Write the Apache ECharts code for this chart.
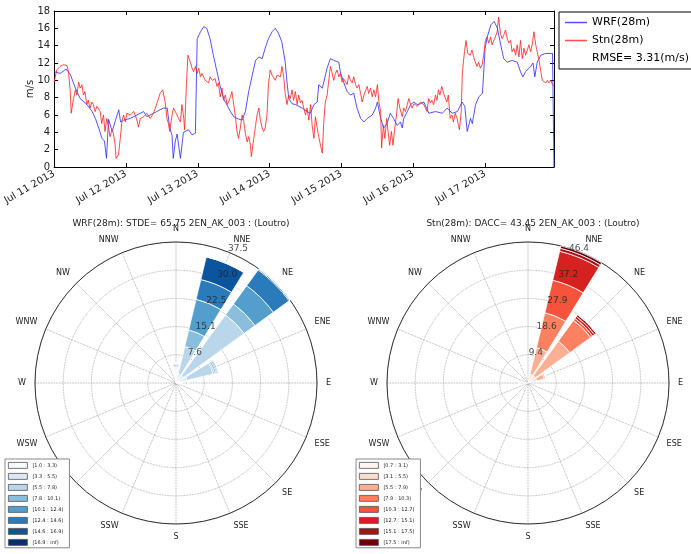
<!DOCTYPE html>
<html>
<head>
<meta charset="utf-8">
<script src="https://cdn.jsdelivr.net/npm/echarts@6.0.0/dist/echarts.min.js"></script>
<style>
html, body { margin: 0; padding: 0; background: #fff; }
#main { width: 691px; height: 554px; }
</style>
</head>
<body>
<div id="main"></div>
<script>
// time series: hours since Jul 11 2013 00:00, wind speed in m/s
var dayLabels = ['Jul 11 2013', 'Jul 12 2013', 'Jul 13 2013', 'Jul 14 2013', 'Jul 15 2013', 'Jul 16 2013', 'Jul 17 2013'];

var wrfHours = [0, 2.0, 4.0, 5.4, 7.1, 8.7, 11.0, 12.7, 13.8, 14.9, 16.0, 16.8, 17.5, 18.2, 19.4, 20.5, 21.6, 22.2, 23.2, 25.4,
    27.7, 29.9, 31.0, 32.1, 34.3, 36.5, 37.8, 38.5, 39.4, 39.8, 40.5, 41.1, 42.2, 43.2, 44.9, 46.1, 47.2, 47.8, 48.9, 50.0,
    51.0, 52.1, 53.2, 54.4, 55.5, 56.6, 57.7, 58.9, 60.0, 61.1, 62.8, 63.9, 65.0, 66.2, 67.3, 68.4, 69.5, 70.5, 71.6, 72.8,
    73.9, 75.0, 76.1, 77.2, 77.8, 78.4, 79.5, 80.6, 82.9, 84.5, 85.6, 86.8, 87.9, 88.4, 89.6, 90.1, 91.2, 92.3, 93.4, 95.1,
    95.6, 96.7, 97.9, 99.0, 100.1, 101.2, 102.4, 103.5, 104.6, 106.3, 107.4, 108.0, 109.1, 110.1, 111.2, 112.3, 113.4, 114.6, 115.7, 116.3,
    116.8, 118.0, 119.1, 120.2, 121.3, 122.4, 123.5, 125.2, 127.4, 129.7, 131.3, 133.0, 134.7, 136.3, 137.2, 138.0, 139.1, 139.7, 140.8, 141.9,
    143.1, 143.7, 144.0, 144.7, 145.9, 147.0, 148.1, 149.2, 150.2, 151.4, 153.0, 154.7, 155.8, 156.6, 157.5, 159.2, 160.0, 160.6, 161.4, 162.6,
    164.2, 166.5, 167.0];
var wrfSpeed = [11.0, 10.8, 11.3, 10.7, 9.1, 7.9, 7.2, 6.4, 5.6, 4.5, 3.3, 3.0, 1.0, 5.5, 4.1, 5.4, 6.6, 5.2, 5.4, 5.6,
    6.0, 6.4, 5.8, 6.0, 6.4, 6.8, 6.8, 4.8, 3.6, 1.0, 3.0, 3.8, 1.0, 4.0, 4.3, 3.7, 3.9, 14.8, 15.6, 16.2,
    16.0, 14.8, 12.9, 11.0, 9.3, 7.9, 7.2, 6.4, 5.8, 5.6, 5.4, 6.4, 8.7, 10.6, 12.3, 12.7, 12.5, 13.7, 14.8, 15.6,
    16.0, 15.4, 14.4, 12.1, 9.8, 7.9, 7.3, 7.2, 6.8, 6.4, 6.2, 7.2, 7.5, 9.5, 9.1, 9.8, 11.4, 12.5, 12.3, 12.1,
    11.0, 9.8, 8.7, 8.3, 8.5, 6.8, 5.6, 5.2, 5.6, 6.0, 6.8, 7.5, 5.6, 4.5, 5.0, 6.2, 5.6, 4.8, 5.2, 4.5,
    5.6, 6.4, 7.2, 7.5, 7.2, 7.3, 7.5, 6.2, 6.4, 6.2, 6.8, 6.2, 6.4, 7.5, 7.0, 4.1, 5.6, 5.0, 7.2, 8.1,
    8.5, 8.5, 13.7, 15.0, 16.4, 16.8, 16.0, 14.1, 12.5, 12.1, 12.3, 12.1, 11.0, 10.4, 11.0, 11.6, 12.0, 10.4, 12.1, 12.9,
    13.1, 13.1, 0];

var stnHours = [0, 0.9, 2.0, 3.1, 4.3, 4.8, 5.4, 5.7, 6.5, 7.1, 7.6, 8.2, 8.7, 9.3, 9.8, 10.3, 10.9, 11.4, 12.0, 12.6,
    13.1, 13.7, 14.3, 14.8, 15.4, 15.9, 16.5, 17.0, 17.6, 18.2, 18.7, 19.3, 19.8, 20.4, 20.7, 21.5, 22.1, 22.7, 23.2, 23.8,
    24.3, 25.4, 26.6, 27.5, 28.2, 28.8, 29.9, 31.0, 32.1, 33.2, 34.3, 34.9, 35.4, 36.3, 37.1, 37.7, 38.2, 38.6, 39.4, 39.9,
    40.5, 41.6, 42.2, 42.7, 43.3, 43.6, 44.2, 44.7, 45.5, 46.1, 46.6, 47.2, 47.8, 48.3, 48.9, 49.4, 50.5, 51.6, 52.1, 52.9,
    53.8, 54.4, 54.9, 55.5, 56.1, 56.6, 57.2, 57.8, 58.3, 58.9, 59.4, 60.0, 60.5, 61.1, 61.6, 62.2, 62.8, 63.3, 63.9, 64.5,
    65.0, 65.6, 65.9, 66.4, 67.3, 67.8, 68.4, 68.9, 69.5, 70.0, 70.5, 71.1, 71.6, 72.2, 72.8, 73.3, 73.9, 74.5, 75.0, 75.6,
    76.1, 76.7, 77.2, 77.8, 78.4, 78.9, 79.5, 80.0, 80.6, 81.2, 81.7, 82.3, 82.8, 83.4, 84.0, 84.5, 85.1, 85.7, 86.2, 86.8,
    87.3, 87.9, 88.4, 89.0, 89.6, 90.1, 90.6, 91.2, 91.7, 92.3, 92.8, 93.4, 94.0, 94.5, 95.1, 95.6, 96.2, 96.7, 97.3, 97.9,
    98.4, 99.0, 99.6, 100.1, 100.7, 101.2, 101.8, 102.4, 102.9, 103.5, 104.0, 104.6, 105.1, 105.7, 106.3, 106.8, 107.4, 108.0, 108.5, 109.1,
    109.4, 110.0, 110.5, 111.1, 111.7, 112.1, 112.7, 113.2, 113.8, 114.4, 114.9, 115.5, 116.3, 116.8, 117.4, 118.0, 118.5, 119.1, 119.6, 120.2,
    121.3, 122.4, 123.5, 124.1, 124.6, 125.1, 125.7, 126.2, 126.8, 127.4, 127.9, 128.4, 128.9, 129.5, 130.1, 130.6, 131.2, 131.7, 132.3, 132.9,
    133.4, 134.0, 134.6, 135.1, 135.4, 136.0, 136.4, 137.1, 137.6, 138.2, 139.0, 139.6, 140.5, 141.3, 141.8, 142.4, 143.0, 143.5, 144.1, 144.6,
    145.2, 145.8, 146.3, 146.9, 147.4, 148.0, 148.5, 149.1, 149.7, 150.2, 150.8, 151.4, 151.9, 152.5, 153.0, 153.6, 154.2, 154.7, 155.3, 155.8,
    156.4, 157.0, 157.5, 158.1, 158.6, 159.2, 159.8, 160.3, 160.9, 161.4, 162.0, 162.6, 163.1, 163.7, 164.2, 164.8, 165.3, 165.9, 166.5, 167.0];
var stnSpeed = [9.8, 11.2, 11.6, 11.8, 11.7, 11.0, 8.7, 6.2, 7.9, 8.9, 8.3, 9.8, 9.1, 9.5, 8.3, 8.7, 7.2, 7.7, 6.8, 7.5,
    7.2, 6.4, 7.0, 7.2, 6.4, 5.0, 6.0, 4.1, 5.6, 4.6, 3.5, 4.3, 3.9, 2.5, 1.0, 1.4, 3.3, 5.4, 6.0, 5.2,
    6.2, 6.0, 6.4, 5.6, 4.6, 5.6, 5.8, 6.2, 5.6, 6.2, 7.3, 7.2, 8.5, 8.9, 7.5, 5.6, 5.0, 4.1, 6.0, 6.8,
    6.4, 5.6, 5.2, 7.2, 5.6, 4.3, 9.5, 12.9, 12.1, 11.4, 11.0, 11.6, 10.8, 11.4, 10.4, 10.8, 10.0, 9.7, 10.4, 10.0,
    10.2, 9.3, 9.7, 8.1, 9.1, 7.7, 8.3, 7.2, 7.5, 8.1, 8.7, 7.2, 6.0, 4.1, 3.3, 4.5, 6.0, 5.4, 3.9, 2.9,
    3.5, 2.5, 1.2, 2.5, 4.8, 6.0, 6.8, 5.4, 4.5, 4.1, 4.5, 6.0, 9.5, 11.2, 10.6, 10.8, 10.0, 10.6, 10.8, 10.4,
    11.6, 10.4, 8.5, 7.2, 8.3, 7.9, 8.9, 7.7, 8.7, 7.2, 8.3, 7.4, 7.7, 6.8, 6.0, 6.8, 5.4, 7.2, 4.8, 3.3,
    5.8, 4.5, 3.5, 2.5, 1.6, 5.2, 7.5, 8.3, 9.8, 11.6, 11.0, 10.0, 10.8, 11.2, 10.4, 10.8, 9.8, 10.2, 10.4, 9.5,
    10.6, 10.0, 9.7, 10.4, 9.5, 9.1, 9.5, 8.5, 7.5, 8.3, 8.5, 9.3, 8.5, 9.1, 8.1, 8.9, 8.1, 9.5, 7.5, 6.4,
    2.2, 4.8, 3.3, 5.6, 3.7, 2.5, 4.1, 2.5, 4.5, 6.0, 7.9, 6.8, 5.8, 6.8, 6.4, 7.2, 7.9, 7.2, 6.8, 7.3,
    7.0, 7.5, 7.2, 7.2, 6.4, 7.9, 7.4, 7.7, 7.2, 8.3, 7.7, 8.9, 8.3, 9.3, 8.5, 8.7, 7.5, 8.3, 5.6, 6.0,
    5.2, 6.2, 5.6, 4.8, 4.3, 6.4, 11.0, 13.3, 14.6, 13.1, 12.9, 13.5, 12.3, 11.6, 12.1, 11.4, 11.8, 12.9, 14.6, 15.0,
    14.3, 15.0, 14.1, 14.0, 15.0, 15.6, 17.3, 15.4, 14.8, 15.2, 15.8, 14.8, 14.3, 14.6, 13.3, 13.7, 12.9, 14.1, 12.7, 14.6,
    12.5, 13.7, 12.9, 13.5, 14.1, 13.3, 14.3, 15.6, 14.1, 13.3, 12.3, 11.0, 10.0, 10.2, 9.7, 10.0, 9.7, 10.0, 9.5, 9.3];

// wind roses: 16 directions, stacked speed bins (frequency %)
var dirs = ['N', 'NNE', 'NE', 'ENE', 'E', 'ESE', 'SE', 'SSE', 'S', 'SSW', 'SW', 'WSW', 'W', 'WNW', 'NW', 'NNW'];

var wrfBinNames = ['[1.0 : 3.3)', '[3.3 : 5.5)', '[5.5 : 7.8)', '[7.8 : 10.1)', '[10.1 : 12.4)', '[12.4 : 14.6)', '[14.6 : 16.9)', '[16.9 : inf)'];
var wrfColors = ['#f7fbff', '#dae8f6', '#bad6eb', '#89bedc', '#539ecd', '#2b7bba', '#0b559f', '#08306b'];
var wrfBin0 = [3.8, 0.5, 0.5, 1.0, 1.8, 0, 0, 0, 0, 0, 0, 0, 0, 0, 0, 0];
var wrfBin1 = [0.5, 2.0, 2.0, 2.0, 0.7, 0, 0, 0, 0, 0, 0, 0, 0, 0, 0, 0];
var wrfBin2 = [0.7, 7.5, 19.9, 7.2, 0.6, 0, 0, 0, 0, 0, 0, 0, 0, 0, 0, 0];
var wrfBin3 = [0.3, 4.5, 3.6, 0.4, 0, 0, 0, 0, 0, 0, 0, 0, 0, 0, 0, 0];
var wrfBin4 = [0, 8.4, 6.0, 0.4, 0, 0, 0, 0, 0, 0, 0, 0, 0, 0, 0, 0];
var wrfBin5 = [0, 5.4, 5.2, 0.3, 0, 0, 0, 0, 0, 0, 0, 0, 0, 0, 0, 0];
var wrfBin6 = [0, 6.2, 0.3, 0.3, 0, 0, 0, 0, 0, 0, 0, 0, 0, 0, 0, 0];
var wrfBin7 = [0, 0, 0, 0, 0, 0, 0, 0, 0, 0, 0, 0, 0, 0, 0, 0];
var wrfRings = [7.5, 15, 22.5, 30, 37.5];
var wrfRingLabels = ['7.6', '15.1', '22.5', '30.0', '37.5'];

var stnBinNames = ['[0.7 : 3.1)', '[3.1 : 5.5)', '[5.5 : 7.9)', '[7.9 : 10.3)', '[10.3 : 12.7)', '[12.7 : 15.1)', '[15.1 : 17.5)', '[17.5 : inf)'];
var stnColors = ['#fff5f0', '#fedbcc', '#fcaf93', '#fc8161', '#f5533b', '#d52221', '#aa1016', '#67000d'];
var stnBin0 = [0, 1.0, 1.0, 1.0, 0, 0, 0, 0, 0, 0, 0, 0, 1.5, 0, 0, 0];
var stnBin1 = [0, 2.0, 2.0, 2.0, 0, 0, 0, 0, 0, 0, 0, 0, 1.0, 0, 0, 0];
var stnBin2 = [0, 9.0, 14.0, 2.5, 0, 0, 0, 0, 0, 0, 0, 0, 0.5, 0, 0, 0];
var stnBin3 = [0, 11.8, 8.5, 0.4, 0, 0, 0, 0, 0, 0, 0, 0, 0, 0, 0, 0];
var stnBin4 = [0, 11.0, 0.8, 0.3, 0, 0, 0, 0, 0, 0, 0, 0, 0, 0, 0, 0];
var stnBin5 = [0, 9.8, 0.8, 0, 0, 0, 0, 0, 0, 0, 0, 0, 0, 0, 0, 0];
var stnBin6 = [0, 1.0, 0.7, 0, 0, 0, 0, 0, 0, 0, 0, 0, 0, 0, 0, 0];
var stnBin7 = [0, 0.8, 0, 0, 0, 0, 0, 0, 0, 0, 0, 0, 0, 0, 0, 0];
var stnRings = [9.28, 18.56, 27.84, 37.12, 46.4];
var stnRingLabels = ['9.4', '18.6', '27.9', '37.2', '46.4'];

var myChart = echarts.init(document.getElementById('main'));

function pairs(xs, ys) {
    return xs.map(function (x, i) { return [x, ys[i]]; });
}

function roseSeries(names, colors, bins, polarIndex, stackId) {
    return names.map(function (n, i) {
        return {
            name: n, type: 'bar', coordinateSystem: 'polar', polarIndex: polarIndex, stack: stackId,
            data: bins[i], barCategoryGap: '20%', silent: true,
            itemStyle: {color: colors[i], borderColor: '#fff', borderWidth: 0.8}
        };
    });
}

function ringLabelSeries(rings, labels, polarIndex, offset) {
    return {
        type: 'scatter', coordinateSystem: 'polar', polarIndex: polarIndex, silent: true, z: 10,
        symbolSize: 0,
        data: rings.map(function (r) { return [r, 'NNE']; }),
        label: {
            show: true, position: 'inside', offset: offset, fontSize: 9, color: '#222',
            formatter: function (p) { return labels[p.dataIndex]; }
        }
    };
}

function roseLegend(names, left) {
    return {
        data: names, orient: 'vertical', left: left, top: 459, height: 140, icon: 'rect',
        itemWidth: 19, itemHeight: 6, itemGap: 4.2,
        padding: [3, 6, 2, 3], borderColor: '#888', borderWidth: 1, backgroundColor: '#fff',
        itemStyle: {borderColor: '#555', borderWidth: 0.8},
        textStyle: {fontSize: 5, lineHeight: 6, color: '#222'}, selectedMode: false
    };
}

function ticks() {
    return {show: true, inside: true, length: 4, lineStyle: {color: '#000', width: 1}};
}
function frameLine() {
    return {show: true, onZero: false, lineStyle: {color: '#000', width: 1}};
}

var dirLabelStyle = {fontSize: 8, color: '#222', margin: 9};
var dotted = {type: 'dotted', color: '#999', width: 0.8};

var option = {
    animation: false,
    textStyle: {fontFamily: 'DejaVu Sans'},
    title: [
        {text: 'WRF(28m): STDE= 65.75 2EN_AK_003 : (Loutro)', left: 176, top: 214, textAlign: 'center',
            textStyle: {fontSize: 9, fontWeight: 'normal', color: '#222'}},
        {text: 'Stn(28m): DACC= 43.45 2EN_AK_003 : (Loutro)', left: 528, top: 214, textAlign: 'center',
            textStyle: {fontSize: 9, fontWeight: 'normal', color: '#222'}}
    ],
    legend: [
        {
            data: ['WRF(28m)', 'Stn(28m)', {name: 'RMSE= 3.31(m/s)', itemStyle: {opacity: 0}}],
            orient: 'vertical', left: 559, top: 12, icon: 'rect', itemWidth: 22, itemHeight: 1.5, itemGap: 5,
            padding: [4, 10, 4, 6], borderColor: '#000', borderWidth: 1,
            textStyle: {fontSize: 11, lineHeight: 13, color: '#000'}, selectedMode: false
        },
        roseLegend(wrfBinNames, 5),
        roseLegend(stnBinNames, 356)
    ],
    grid: {left: 54, top: 11, width: 500, height: 156, show: false},
    xAxis: [
        {type: 'value', gridIndex: 0, min: 0, max: 167, interval: 24, position: 'bottom',
            axisLine: frameLine(), axisTick: ticks(), splitLine: {show: false},
            axisLabel: {rotate: 30, fontSize: 10, color: '#222', margin: 6, showMaxLabel: false,
                formatter: function (v) { return (v % 24 === 0 && v / 24 < dayLabels.length) ? dayLabels[v / 24] : ''; }}},
        {type: 'value', gridIndex: 0, min: 0, max: 167, interval: 24, position: 'top',
            axisLine: frameLine(), axisTick: ticks(), splitLine: {show: false}, axisLabel: {show: false}}
    ],
    yAxis: [
        {type: 'value', gridIndex: 0, min: 0, max: 18, interval: 2, position: 'left', name: 'm/s', nameLocation: 'middle',
            nameGap: 19, nameRotate: 90, nameMoveOverlap: false, nameTextStyle: {fontSize: 10, color: '#222'},
            axisLine: frameLine(), axisTick: ticks(), splitLine: {show: false},
            axisLabel: {fontSize: 10, color: '#222', margin: 4}},
        {type: 'value', gridIndex: 0, min: 0, max: 18, interval: 2, position: 'right',
            axisLine: frameLine(), axisTick: ticks(), splitLine: {show: false}, axisLabel: {show: false}}
    ],
    polar: [
        {center: [176, 383], radius: [0, 141]},
        {center: [176, 383], radius: [0, 141]},
        {center: [528, 383], radius: [0, 141]},
        {center: [528, 383], radius: [0, 141]}
    ],
    angleAxis: [
        {polarIndex: 0, type: 'category', data: dirs, startAngle: 101.25, axisLine: {lineStyle: {color: '#333', width: 1}},
            axisTick: {show: false}, splitLine: {show: false}, axisLabel: dirLabelStyle},
        {polarIndex: 1, type: 'value', min: 0, max: 360, interval: 22.5, startAngle: 90, axisLine: {show: false},
            axisTick: {show: false}, axisLabel: {show: false}, splitLine: {show: true, lineStyle: dotted}},
        {polarIndex: 2, type: 'category', data: dirs, startAngle: 101.25, axisLine: {lineStyle: {color: '#333', width: 1}},
            axisTick: {show: false}, splitLine: {show: false}, axisLabel: dirLabelStyle},
        {polarIndex: 3, type: 'value', min: 0, max: 360, interval: 22.5, startAngle: 90, axisLine: {show: false},
            axisTick: {show: false}, axisLabel: {show: false}, splitLine: {show: true, lineStyle: dotted}}
    ],
    radiusAxis: [
        {polarIndex: 0, type: 'value', min: 0, max: 37.5, interval: 7.5, axisLine: {show: false}, axisTick: {show: false},
            axisLabel: {show: false}, splitLine: {show: true, lineStyle: dotted}},
        {polarIndex: 1, type: 'value', min: 0, max: 37.5, show: false},
        {polarIndex: 2, type: 'value', min: 0, max: 46.4, interval: 9.28, axisLine: {show: false}, axisTick: {show: false},
            axisLabel: {show: false}, splitLine: {show: true, lineStyle: dotted}},
        {polarIndex: 3, type: 'value', min: 0, max: 46.4, show: false}
    ],
    series: [
        {name: 'WRF(28m)', type: 'line', xAxisIndex: 0, yAxisIndex: 0, data: pairs(wrfHours, wrfSpeed),
            symbol: 'none', color: 'rgba(40,40,255,0.8)', lineStyle: {width: 1}},
        {name: 'Stn(28m)', type: 'line', xAxisIndex: 0, yAxisIndex: 0, data: pairs(stnHours, stnSpeed),
            symbol: 'none', color: 'rgba(255,30,30,0.8)', lineStyle: {width: 1}},
        {name: 'RMSE= 3.31(m/s)', type: 'line', xAxisIndex: 0, yAxisIndex: 0, data: [],
            symbol: 'none', color: 'rgba(0,0,0,0)'}
    ]
        .concat(roseSeries(wrfBinNames, wrfColors, [wrfBin0, wrfBin1, wrfBin2, wrfBin3, wrfBin4, wrfBin5, wrfBin6, wrfBin7], 0, 'wrf'))
        .concat(roseSeries(stnBinNames, stnColors, [stnBin0, stnBin1, stnBin2, stnBin3, stnBin4, stnBin5, stnBin6, stnBin7], 2, 'stn'))
        .concat([ringLabelSeries(wrfRings, wrfRingLabels, 0, [8, -4]), ringLabelSeries(stnRings, stnRingLabels, 2, [-3, -4])])
};

myChart.setOption(option);
</script>
</body>
</html>
